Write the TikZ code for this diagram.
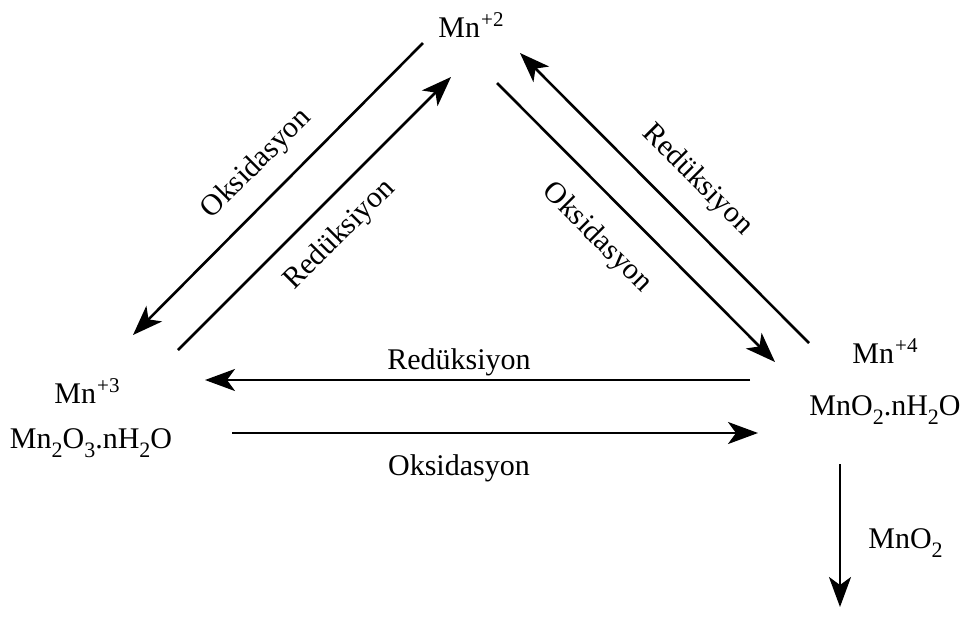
\documentclass[tikz,border=0pt]{standalone}
\usepackage{fontspec}
\setmainfont{Liberation Serif}
\usetikzlibrary{arrows.meta}
\newcommand{\ionsup}[1]{\kern0.5pt\raisebox{5.5pt}{\fontsize{10.5}{12}\selectfont #1}}
\newcommand{\ionsub}[1]{\raisebox{-4.5pt}{\fontsize{11}{12}\selectfont #1}}
\tikzset{
	reac/.style={line width=1.3pt, -{Stealth[length=15pt,width=11pt,inset=4pt]}},
	every node/.style={font=\fontsize{15}{18}\selectfont, inner sep=0pt}
}
\begin{document}
\begin{tikzpicture}[x=0.5pt,y=-0.5pt]
	\useasboundingbox (0,0) rectangle (966,617);
	% species
	\node[anchor=base] (mn2) at (471,37) {Mn\ionsup{+2}};
	\node[anchor=base] (mn3) at (87,403) {Mn\ionsup{+3}};
	\node[anchor=base] (mn3ox) at (91,448) {Mn\ionsub{2}O\ionsub{3}.nH\ionsub{2}O};
	\node[anchor=base] (mn4) at (885,363) {Mn\ionsup{+4}};
	\node[anchor=base] (mn4ox) at (885,415) {MnO\ionsub{2}.nH\ionsub{2}O};
	\node[anchor=base west] (mno2) at (868,548) {MnO\ionsub{2}};
	% arrow ends
	\coordinate (a1) at (423,43);  \coordinate (b1) at (133,335);
	\coordinate (a2) at (178,350); \coordinate (b2) at (451,77);
	\coordinate (a3) at (497,83);  \coordinate (b3) at (775,362);
	\coordinate (a4) at (809,343); \coordinate (b4) at (520,53);
	\coordinate (a5) at (750,380); \coordinate (b5) at (205,380);
	\coordinate (a6) at (232,433); \coordinate (b6) at (758,433);
	\coordinate (a7) at (840,464); \coordinate (b7) at (840,607);
	% reactions
	\draw[reac] (a1) -- (b1);
	\draw[reac] (a2) -- (b2);
	\draw[reac] (a3) -- (b3);
	\draw[reac] (a4) -- (b4);
	\draw[reac] (a5) -- (b5);
	\draw[reac] (a6) -- (b6);
	\draw[reac] (a7) -- (b7);
	% labels
	\node[rotate=45] (l1) at (257,164) {Oksidasyon};
	\node[rotate=45] (l2) at (340,235) {Redüksiyon};
	\node[rotate=-45] (l3) at (597,238) {Oksidasyon};
	\node[rotate=-45] (l4) at (697,180) {Redüksiyon};
	\node (l5) at (459,362) {Redüksiyon};
	\node (l6) at (459,468) {Oksidasyon};
\end{tikzpicture}
\end{document}
